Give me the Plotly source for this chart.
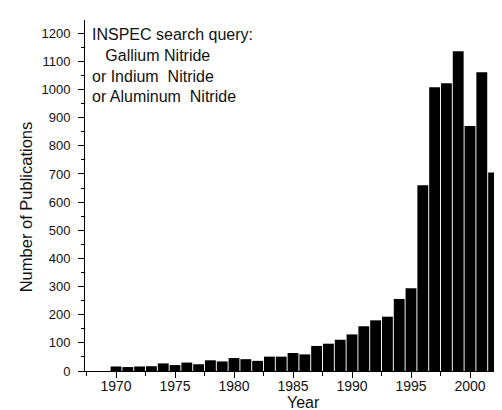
import plotly.graph_objects as go

years = list(range(1970, 2003))
publications = [16, 14, 16, 17, 27, 21, 30, 24, 38, 34, 46, 42, 36, 51, 51,
                64, 59, 89, 97, 111, 130, 159, 180, 193, 256, 294,
                660, 1008, 1022, 1136, 870, 1061, 705]

x_ticks = [1970, 1975, 1980, 1985, 1990, 1995, 2000]
y_ticks = list(range(0, 1300, 100))

annotation_lines = [
    "INSPEC search query:",
    "\u00a0\u00a0\u00a0Gallium Nitride",
    "or Indium\u00a0 Nitride",
    "or Aluminum\u00a0 Nitride",
]

FONT = "Arial, 'Liberation Sans', sans-serif"
TXT = "#111"

fig = go.Figure(go.Bar(
    x=years, y=publications,
    marker=dict(color="black", line=dict(width=0)),
))

fig.update_layout(
    width=502, height=410,
    margin=dict(l=77, r=0, t=12, b=47),
    paper_bgcolor="white", plot_bgcolor="white",
    bargap=0.08,
    showlegend=False,
    font=dict(family=FONT, color="black"),
)

fig.update_xaxes(
    range=[1967.37, 2003.39],
    tickvals=x_ticks, ticktext=[str(v) for v in x_ticks],
    ticks="outside", ticklen=6, tickwidth=1, tickcolor="black",
    minor=dict(dtick=2.5, tick0=1967.5, ticks="outside", ticklen=4, tickcolor="black", tickwidth=1),
    showline=True, linecolor="black", linewidth=1,
    showgrid=False, zeroline=False,
    ticklabelstandoff=-4,
    tickfont=dict(size=14, family=FONT, color=TXT),
)
fig.update_yaxes(
    range=[0, 1247],
    tickvals=y_ticks, ticktext=[str(v) for v in y_ticks],
    ticks="outside", ticklen=6, tickwidth=1, tickcolor="black",
    minor=dict(dtick=50, tick0=0, ticks="outside", ticklen=3, tickcolor="black", tickwidth=1),
    showline=True, linecolor="black", linewidth=1,
    showgrid=False, zeroline=False,
    ticklabelstandoff=5,
    tickfont=dict(size=13, family=FONT, color=TXT),
)

fig.add_annotation(
    xref="paper", yref="paper", x=(82 - 77) / 425, y=1 - (16 - 12) / 351,
    xanchor="left", yanchor="top", align="left", showarrow=False,
    text="<br>".join(annotation_lines),
    font=dict(size=16, family=FONT, color=TXT),
)

fig.add_annotation(
    xref="paper", yref="paper", x=-(77 - 18) / 425, y=(362.7 - 199) / 351,
    xanchor="center", yanchor="middle", showarrow=False, textangle=-90,
    text="Number of Publications",
    font=dict(size=16.5, family=FONT, color=TXT),
)

fig.add_annotation(
    xref="paper", yref="paper", x=(295 - 77) / 425, y=-(384 - 362.7) / 351,
    xanchor="center", yanchor="top", showarrow=False,
    text="Year",
    font=dict(size=16, family=FONT, color=TXT),
)

fig.write_html("out.html")
